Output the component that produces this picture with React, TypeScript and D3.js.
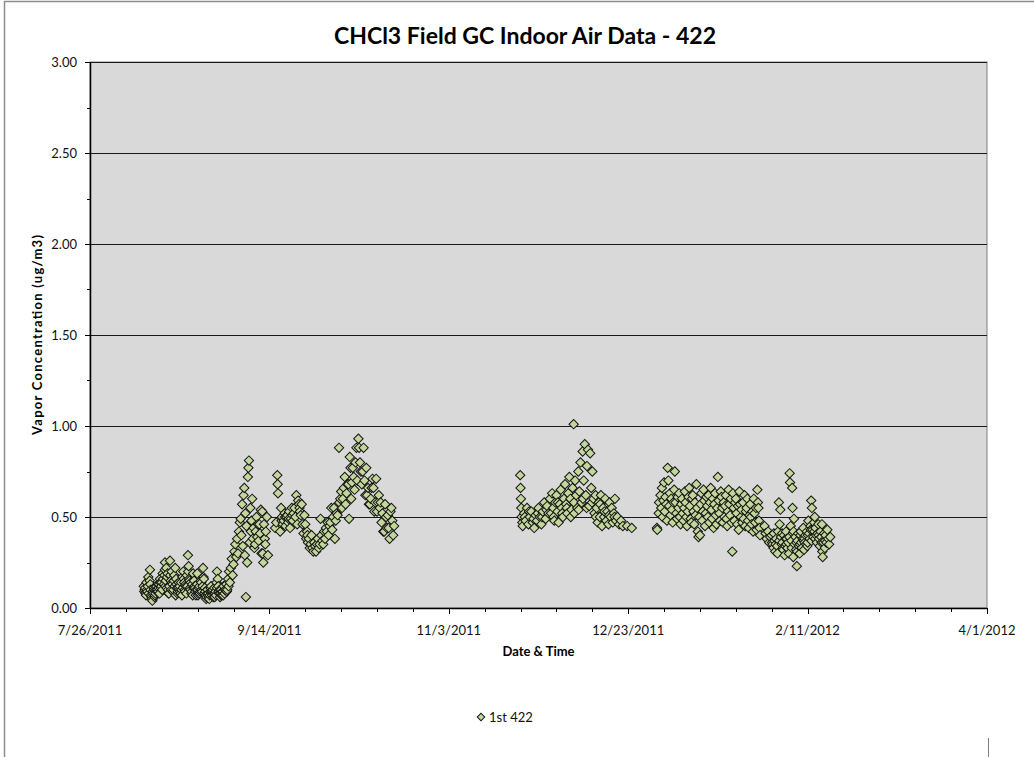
import React, { useEffect, useRef } from "react";
import * as d3 from "d3";

// readings: [day of month (fractional), ug/m3]
const aug2011: [number, number][] = [
  [10.0, 0.12], [10.25, 0.1], [10.5, 0.08], [10.75, 0.14],
  [11.0, 0.09], [11.25, 0.17], [11.7, 0.21], [11.8, 0.13],
  [12.0, 0.07], [12.25, 0.05], [12.5, 0.09], [12.75, 0.11],
  [13.0, 0.06], [13.25, 0.08], [13.5, 0.12], [13.75, 0.1],
  [14.0, 0.09], [14.25, 0.13], [14.5, 0.16], [14.75, 0.11],
  [15.0, 0.14], [15.25, 0.19], [15.9, 0.25], [15.75, 0.18],
  [16.0, 0.12], [16.25, 0.22], [16.5, 0.17], [16.75, 0.1],
  [17.0, 0.08], [17.3, 0.26], [17.5, 0.15], [17.75, 0.2],
  [18.0, 0.13], [18.25, 0.1], [18.5, 0.18], [18.75, 0.22],
  [19.0, 0.16], [19.25, 0.11], [19.5, 0.09], [19.75, 0.14],
  [20.0, 0.12], [20.25, 0.08], [20.5, 0.1], [20.75, 0.17],
  [21.0, 0.2], [21.25, 0.14], [21.5, 0.09], [21.75, 0.12],
  [22.0, 0.18], [22.3, 0.29], [22.5, 0.23], [22.75, 0.15],
  [23.0, 0.1], [23.25, 0.08], [23.5, 0.13], [23.75, 0.19],
  [24.0, 0.15], [24.25, 0.11], [24.5, 0.07], [24.9, 0.19],
  [25.0, 0.1], [25.25, 0.08], [25.5, 0.12], [25.75, 0.09],
  [26.0, 0.14], [26.25, 0.09], [26.5, 0.22], [26.75, 0.16],
  [27.0, 0.11], [27.25, 0.07], [27.5, 0.06], [27.75, 0.1],
  [28.0, 0.08], [28.25, 0.05], [28.5, 0.09], [28.75, 0.12],
  [29.0, 0.07], [29.25, 0.1], [29.5, 0.08], [29.75, 0.06],
  [30.0, 0.09], [30.25, 0.14], [30.4, 0.2], [30.75, 0.12],
  [31.0, 0.08], [31.25, 0.06], [31.5, 0.1], [31.75, 0.07],
  [10.125, 0.09], [10.375, 0.11], [10.625, 0.07], [10.875, 0.1],
  [11.125, 0.12], [11.375, 0.08], [11.625, 0.15], [11.875, 0.1],
  [12.125, 0.06], [12.375, 0.04], [12.625, 0.08], [12.875, 0.1],
  [13.125, 0.07], [13.375, 0.1], [13.625, 0.09], [13.875, 0.13],
  [14.125, 0.11], [14.375, 0.08], [14.625, 0.14], [14.875, 0.12],
  [15.125, 0.1], [15.375, 0.16], [15.625, 0.13], [15.875, 0.21],
  [16.125, 0.15], [16.375, 0.11], [16.625, 0.19], [16.875, 0.08],
  [17.125, 0.12], [17.375, 0.18], [17.625, 0.1], [17.875, 0.14],
  [18.125, 0.09], [18.375, 0.15], [18.625, 0.12], [18.875, 0.07],
  [19.125, 0.13], [19.375, 0.08], [19.625, 0.11], [19.875, 0.1],
  [20.125, 0.09], [20.375, 0.14], [20.625, 0.07], [20.875, 0.11],
  [21.125, 0.16], [21.375, 0.1], [21.625, 0.13], [21.875, 0.08],
  [22.125, 0.12], [22.375, 0.2], [22.625, 0.16], [22.875, 0.11],
  [23.125, 0.14], [23.375, 0.09], [23.625, 0.07], [23.875, 0.11],
  [24.125, 0.12], [24.375, 0.09], [24.625, 0.1], [24.875, 0.13],
  [25.125, 0.07], [25.375, 0.11], [25.625, 0.08], [25.875, 0.15],
  [26.125, 0.1], [26.375, 0.12], [26.625, 0.17], [26.875, 0.08],
  [27.125, 0.09], [27.375, 0.05], [27.625, 0.08], [27.875, 0.07],
  [28.125, 0.06], [28.375, 0.07], [28.625, 0.11], [28.875, 0.09],
  [29.125, 0.09], [29.375, 0.06], [29.625, 0.11], [29.875, 0.08],
  [30.125, 0.07], [30.375, 0.11], [30.625, 0.16], [30.875, 0.09],
  [31.125, 0.1], [31.375, 0.08], [31.625, 0.07], [31.875, 0.09],
];

const sep2011: [number, number][] = [
  [1.0, 0.09], [1.25, 0.12], [1.5, 0.08], [1.75, 0.1],
  [2.0, 0.13], [2.25, 0.1], [2.5, 0.16], [2.75, 0.2],
  [3.0, 0.14], [3.25, 0.22], [3.5, 0.27], [3.75, 0.18],
  [4.0, 0.24], [4.25, 0.31], [4.5, 0.35], [4.75, 0.28],
  [5.0, 0.38], [5.25, 0.3], [5.5, 0.42], [5.75, 0.47],
  [6.0, 0.49], [6.2, 0.4], [6.4, 0.57], [6.6, 0.34], [6.8, 0.62],
  [7.0, 0.66], [7.15, 0.29], [7.3, 0.52], [7.45, 0.06], [7.6, 0.45], [7.8, 0.25],
  [8.0, 0.72], [8.15, 0.77], [8.3, 0.81], [8.5, 0.36], [8.7, 0.55], [8.85, 0.42],
  [9.0, 0.48], [9.2, 0.6], [9.4, 0.38], [9.6, 0.44], [9.8, 0.33],
  [10.0, 0.35], [10.2, 0.42], [10.4, 0.5], [10.6, 0.39], [10.8, 0.46],
  [11.0, 0.37], [11.2, 0.46], [11.4, 0.41], [11.6, 0.54], [11.8, 0.3],
  [12.0, 0.53], [12.15, 0.3], [12.3, 0.25], [12.5, 0.46], [12.7, 0.38], [12.85, 0.35],
  [13.0, 0.42], [13.3, 0.5], [13.6, 0.29],
  [15.6, 0.44], [15.9, 0.47], [16.2, 0.73], [16.3, 0.68], [16.4, 0.63],
  [17.0, 0.42], [17.25, 0.55], [17.5, 0.5], [17.75, 0.46],
  [18.0, 0.48], [18.25, 0.52], [18.5, 0.45], [18.75, 0.5],
  [19.0, 0.51], [19.25, 0.47], [19.5, 0.53], [19.75, 0.44],
  [20.0, 0.49], [20.25, 0.55], [20.5, 0.48], [20.75, 0.52],
  [21.0, 0.55], [21.25, 0.5], [21.5, 0.62], [21.75, 0.46],
  [22.0, 0.59], [22.25, 0.57], [22.5, 0.53], [22.75, 0.51],
  [23.0, 0.57], [23.25, 0.46], [23.5, 0.41], [23.75, 0.51],
  [24.0, 0.46], [24.25, 0.38], [24.5, 0.42], [24.75, 0.36],
  [25.0, 0.38], [25.25, 0.33], [25.5, 0.35], [25.75, 0.4],
  [26.0, 0.33], [26.25, 0.31], [26.5, 0.36], [26.75, 0.34],
  [27.0, 0.31], [27.25, 0.35], [27.5, 0.38], [27.75, 0.33],
  [28.0, 0.35], [28.25, 0.49], [28.5, 0.4], [28.75, 0.37],
  [29.0, 0.35], [29.25, 0.42], [29.5, 0.38], [29.75, 0.44],
  [30.0, 0.42], [30.25, 0.47], [30.5, 0.4], [30.75, 0.45],
  [1.125, 0.07], [1.625, 0.1], [2.125, 0.09], [2.625, 0.12],
  [17.4, 0.48], [18.4, 0.5], [19.4, 0.49], [20.4, 0.51], [22.4, 0.55], [24.6, 0.4],
];

const oct2011: [number, number][] = [
  [1.0, 0.47], [1.25, 0.55], [1.5, 0.43], [1.75, 0.5],
  [2.0, 0.55], [2.25, 0.38], [2.5, 0.48], [2.75, 0.52],
  [3.0, 0.51], [3.4, 0.88], [3.5, 0.58], [3.75, 0.6],
  [4.0, 0.64], [4.25, 0.55], [4.5, 0.6], [4.75, 0.66],
  [5.0, 0.72], [5.25, 0.57], [5.5, 0.63], [5.75, 0.68],
  [6.0, 0.68], [6.2, 0.49], [6.4, 0.83], [6.6, 0.77], [6.8, 0.6],
  [7.0, 0.69], [7.25, 0.77], [7.5, 0.72], [7.75, 0.65],
  [8.0, 0.8], [8.25, 0.88], [8.5, 0.7], [8.8, 0.93],
  [9.0, 0.88], [9.25, 0.8], [9.5, 0.75], [9.75, 0.68],
  [10.0, 0.75], [10.25, 0.88], [10.5, 0.7], [10.75, 0.62],
  [11.0, 0.77], [11.25, 0.62], [11.5, 0.66], [11.75, 0.57],
  [12.0, 0.57], [12.25, 0.6], [12.5, 0.66], [12.75, 0.71],
  [13.0, 0.66], [13.25, 0.53], [13.5, 0.58], [13.75, 0.71],
  [14.0, 0.53], [14.25, 0.58], [14.5, 0.62], [14.75, 0.55],
  [15.0, 0.58], [15.25, 0.47], [15.5, 0.52], [15.75, 0.42],
  [16.0, 0.42], [16.25, 0.57], [16.5, 0.5], [16.75, 0.44],
  [17.0, 0.51], [17.25, 0.44], [17.5, 0.38], [17.75, 0.53],
  [18.0, 0.55], [18.25, 0.48], [18.5, 0.4], [18.75, 0.45],
];

const nov2011: [number, number][] = [
  [22.9, 0.73], [23.0, 0.66], [23.1, 0.6], [23.2, 0.55], [23.3, 0.5], [23.5, 0.47], [23.6, 0.45],
  [24.0, 0.52], [24.4, 0.48], [24.8, 0.55], [25.2, 0.46], [25.6, 0.5],
  [26.0, 0.53], [26.4, 0.47], [26.8, 0.44], [27.2, 0.51], [27.6, 0.48],
  [28.0, 0.55], [28.4, 0.5], [28.8, 0.46], [29.2, 0.53], [29.6, 0.58],
  [30.0, 0.49], [30.4, 0.56], [30.8, 0.52],
  [24.2, 0.5], [25.4, 0.53], [26.6, 0.49], [27.8, 0.52], [29.0, 0.5], [30.2, 0.54],
];

const dec2011: [number, number][] = [
  [1.2, 0.6], [1.5, 0.52], [1.8, 0.63], [2.1, 0.55], [2.4, 0.48], [2.7, 0.58],
  [3.0, 0.62], [3.3, 0.53], [3.6, 0.47], [3.9, 0.57],
  [4.2, 0.65], [4.5, 0.55], [4.8, 0.5], [5.1, 0.6],
  [5.4, 0.68], [5.7, 0.57], [6.0, 0.52], [6.3, 0.63],
  [6.6, 0.72], [6.9, 0.6], [7.2, 0.54], [7.5, 0.66],
  [7.8, 1.01], [7.9, 0.58], [8.2, 0.7], [8.5, 0.62], [8.8, 0.55],
  [9.1, 0.75], [9.4, 0.64], [9.7, 0.8], [10.0, 0.58],
  [10.3, 0.86], [10.6, 0.7], [10.9, 0.9], [11.2, 0.62],
  [11.5, 0.78], [11.8, 0.87], [12.1, 0.56], [12.4, 0.85], [12.7, 0.66],
  [13.0, 0.75], [13.3, 0.6], [13.6, 0.52], [13.9, 0.62],
  [14.2, 0.55], [14.5, 0.47], [14.8, 0.58], [15.1, 0.5],
  [15.4, 0.62], [15.7, 0.45], [16.0, 0.55], [16.3, 0.5],
  [16.6, 0.6], [16.9, 0.48], [17.2, 0.53], [17.5, 0.46],
  [17.8, 0.58], [18.1, 0.5], [18.4, 0.55], [18.7, 0.47],
  [19.0, 0.52], [19.3, 0.6], [19.6, 0.48], [20.0, 0.5],
  [20.5, 0.46], [21.0, 0.48], [21.5, 0.45],
  [22.7, 0.45], [24.0, 0.44],
  [31.0, 0.44], [31.1, 0.43], [31.5, 0.52], [31.6, 0.58],
  [2.2, 0.5], [3.4, 0.58], [4.6, 0.52], [5.9, 0.55], [7.0, 0.5],
  [8.0, 0.52], [9.2, 0.54], [10.4, 0.6], [11.4, 0.55], [12.9, 0.58],
  [14.0, 0.5], [15.2, 0.57], [16.4, 0.53], [17.7, 0.51], [19.2, 0.5],
];

const jan2012: [number, number][] = [
  [1.0, 0.62], [1.2, 0.55], [1.4, 0.66], [1.6, 0.5], [1.8, 0.59],
  [2.0, 0.69], [2.2, 0.53], [2.4, 0.61], [2.6, 0.57], [2.8, 0.48],
  [3.0, 0.77], [3.2, 0.7], [3.4, 0.56], [3.6, 0.63], [3.8, 0.51],
  [4.0, 0.6], [4.2, 0.54], [4.4, 0.47], [4.6, 0.58], [4.8, 0.65],
  [5.0, 0.75], [5.2, 0.58], [5.4, 0.52], [5.6, 0.49], [5.8, 0.61],
  [6.0, 0.55], [6.2, 0.63], [6.4, 0.5], [6.6, 0.46], [6.8, 0.57],
  [7.0, 0.6], [7.2, 0.52], [7.4, 0.48], [7.6, 0.55], [7.8, 0.64],
  [8.0, 0.58], [8.2, 0.5], [8.4, 0.45], [8.6, 0.53], [8.8, 0.61],
  [9.0, 0.66], [9.2, 0.56], [9.4, 0.49], [9.6, 0.47], [9.8, 0.6],
  [10.0, 0.62], [10.2, 0.53], [10.4, 0.46], [10.6, 0.58], [10.8, 0.51],
  [11.0, 0.68], [11.2, 0.55], [11.4, 0.42], [11.6, 0.39], [11.8, 0.5],
  [12.0, 0.4], [12.2, 0.57], [12.4, 0.63], [12.6, 0.48], [12.8, 0.53],
  [13.0, 0.65], [13.2, 0.59], [13.4, 0.45], [13.6, 0.52], [13.8, 0.61],
  [14.0, 0.56], [14.2, 0.5], [14.4, 0.62], [14.6, 0.47], [14.8, 0.58],
  [15.0, 0.66], [15.2, 0.54], [15.4, 0.49], [15.6, 0.6], [15.8, 0.44],
  [16.0, 0.57], [16.2, 0.63], [16.4, 0.51], [16.6, 0.46], [16.8, 0.55],
  [17.0, 0.72], [17.2, 0.59], [17.4, 0.52], [17.6, 0.48], [17.8, 0.64],
  [18.0, 0.61], [18.2, 0.55], [18.4, 0.47], [18.6, 0.58], [18.8, 0.5],
  [19.0, 0.56], [19.2, 0.62], [19.4, 0.49], [19.6, 0.45], [19.8, 0.53],
  [20.0, 0.65], [20.2, 0.57], [20.4, 0.51], [20.6, 0.6], [20.8, 0.47],
  [21.0, 0.31], [21.2, 0.63], [21.4, 0.55], [21.6, 0.48], [21.8, 0.58],
  [22.0, 0.6], [22.2, 0.52], [22.4, 0.46], [22.6, 0.56], [22.8, 0.43],
  [23.0, 0.64], [23.2, 0.57], [23.4, 0.5], [23.6, 0.54], [23.8, 0.47],
  [24.0, 0.58], [24.2, 0.49], [24.4, 0.62], [24.6, 0.45], [24.8, 0.53],
  [25.0, 0.55], [25.2, 0.6], [25.4, 0.48], [25.6, 0.44], [25.8, 0.51],
  [26.0, 0.57], [26.2, 0.5], [26.4, 0.46], [26.6, 0.53], [26.8, 0.42],
  [27.0, 0.6], [27.2, 0.52], [27.4, 0.47], [27.6, 0.55], [27.8, 0.43],
  [28.0, 0.65], [28.15, 0.58], [28.3, 0.55], [28.45, 0.48], [28.6, 0.44], [28.75, 0.4],
  [30.0, 0.45], [30.3, 0.41], [30.6, 0.38],
  [31.0, 0.42], [31.3, 0.36], [31.6, 0.39],
];

const feb2012: [number, number][] = [
  [1.0, 0.4], [1.25, 0.35], [1.5, 0.33], [1.75, 0.37],
  [2.0, 0.31], [2.25, 0.38], [2.5, 0.34], [2.75, 0.42],
  [3.0, 0.58], [3.2, 0.46], [3.4, 0.54], [3.6, 0.39], [3.8, 0.35],
  [4.0, 0.36], [4.2, 0.32], [4.4, 0.4], [4.6, 0.29], [4.8, 0.34],
  [5.0, 0.42], [5.2, 0.38], [5.4, 0.33], [5.6, 0.36], [5.8, 0.3],
  [6.0, 0.74], [6.1, 0.69], [6.3, 0.45], [6.5, 0.37], [6.6, 0.33],
  [6.7, 0.66], [6.8, 0.55], [6.9, 0.41],
  [7.0, 0.28], [7.2, 0.49], [7.4, 0.35], [7.6, 0.39], [7.8, 0.32],
  [8.0, 0.23], [8.2, 0.37], [8.4, 0.41], [8.6, 0.34], [8.8, 0.3],
  [9.0, 0.4], [9.2, 0.36], [9.4, 0.33], [9.6, 0.38], [9.8, 0.44],
  [10.0, 0.32], [10.2, 0.36], [10.4, 0.4], [10.6, 0.35], [10.8, 0.42],
  [11.0, 0.36], [11.2, 0.48], [11.4, 0.41], [11.6, 0.38], [11.8, 0.45],
  [12.0, 0.59], [12.2, 0.55], [12.4, 0.43], [12.6, 0.39], [12.8, 0.47],
  [13.0, 0.5], [13.2, 0.44], [13.4, 0.4], [13.6, 0.36], [13.8, 0.41],
  [14.0, 0.46], [14.2, 0.38], [14.4, 0.34], [14.6, 0.42], [14.8, 0.39],
  [15.0, 0.46], [15.2, 0.28], [15.4, 0.36], [15.6, 0.41], [15.8, 0.33],
  [16.0, 0.4], [16.25, 0.36], [16.5, 0.43], [16.75, 0.38],
  [17.0, 0.35], [17.3, 0.39],
  [1.1, 0.36], [1.6, 0.41], [2.1, 0.35], [2.6, 0.3], [3.1, 0.37], [3.9, 0.41],
  [4.1, 0.33], [4.9, 0.38], [5.1, 0.35], [5.9, 0.39], [7.1, 0.42], [7.9, 0.36],
  [8.1, 0.31], [8.9, 0.35], [9.1, 0.42], [9.9, 0.37], [10.1, 0.38], [10.9, 0.34],
  [11.1, 0.4], [11.9, 0.43], [12.1, 0.37], [12.9, 0.42], [13.1, 0.38], [14.1, 0.4],
  [14.9, 0.36], [15.1, 0.31], [15.9, 0.37],
];

const months: { year: number; month: number; readings: [number, number][] }[] = [
  { year: 2011, month: 7, readings: aug2011 },
  { year: 2011, month: 8, readings: sep2011 },
  { year: 2011, month: 9, readings: oct2011 },
  { year: 2011, month: 10, readings: nov2011 },
  { year: 2011, month: 11, readings: dec2011 },
  { year: 2012, month: 0, readings: jan2012 },
  { year: 2012, month: 1, readings: feb2012 },
];

const xTickLabels = ["7/26/2011", "9/14/2011", "11/3/2011", "12/23/2011", "2/11/2012", "4/1/2012"];
const yTicks = [0, 0.5, 1, 1.5, 2, 2.5, 3];
const seriesName = "1st 422";
const title = "CHCl3 Field GC Indoor Air Data - 422";

const DAY = 864e5;

const App: React.FC = () => {
  const svgRef = useRef<SVGSVGElement | null>(null);

  useEffect(() => {
    if (!svgRef.current) return;
    const svg = d3.select(svgRef.current);
    svg.selectAll("*").remove();

    const width = 1034;
    const height = 757;
    const margin = { top: 62, right: 47, bottom: 149, left: 90 };
    const innerWidth = width - margin.left - margin.right;
    const innerHeight = height - margin.top - margin.bottom;
    const font = "Lato, 'Open Sans', sans-serif";

    svg.attr("width", width).attr("height", height);

    // chart area
    svg.append("rect")
      .attr("x", 4.5).attr("y", 1.5)
      .attr("width", 1100).attr("height", 900)
      .attr("fill", "#fff")
      .attr("stroke", "#8c8c8c")
      .attr("stroke-width", 1.5);

    svg.append("line")
      .attr("x1", 988.5).attr("x2", 988.5)
      .attr("y1", 738).attr("y2", height)
      .attr("stroke", "#7f7f7f");

    svg.append("text")
      .attr("x", 525)
      .attr("y", 44)
      .attr("text-anchor", "middle")
      .attr("font-family", font)
      .attr("font-weight", "bold")
      .attr("font-size", "23px")
      .text(title);

    const parse = d3.utcParse("%m/%d/%Y");
    const xTicks = xTickLabels.map((s) => parse(s) as Date);
    const start = xTicks[0];
    const end = xTicks[xTicks.length - 1];

    const x = d3.scaleUtc().domain([start, end]).range([0, innerWidth]);
    const y = d3.scaleLinear().domain([0, 3]).range([innerHeight, 0]);

    const g = svg.append("g")
      .attr("transform", `translate(${margin.left},${margin.top})`);

    g.append("rect")
      .attr("width", innerWidth)
      .attr("height", innerHeight)
      .attr("fill", "#d9d9d9")
      .attr("stroke", "#808080")
      .attr("stroke-width", 1);

    // gridlines
    g.selectAll("line.grid")
      .data(yTicks.slice(1))
      .enter()
      .append("line")
      .attr("class", "grid")
      .attr("x1", 0)
      .attr("x2", innerWidth)
      .attr("y1", (d) => Math.round(y(d)) + 0.5)
      .attr("y2", (d) => Math.round(y(d)) + 0.5)
      .attr("stroke", "#1a1a1a")
      .attr("stroke-width", 1);

    // y axis
    const yMinor = d3.range(0, 3.001, 0.25);
    g.selectAll("line.ytick")
      .data(yMinor)
      .enter()
      .append("line")
      .attr("class", "ytick")
      .attr("x1", (d) => (yTicks.includes(d) ? -5 : -3))
      .attr("x2", 0)
      .attr("y1", (d) => Math.round(y(d)) + 0.5)
      .attr("y2", (d) => Math.round(y(d)) + 0.5)
      .attr("stroke", "#000");

    g.selectAll("text.ylab")
      .data(yTicks)
      .enter()
      .append("text")
      .attr("class", "ylab")
      .attr("x", -13)
      .attr("y", (d) => y(d) + 5)
      .attr("text-anchor", "end")
      .attr("font-family", font)
      .attr("font-size", "13px")
      .attr("fill", "#111")
      .text((d) => d.toFixed(2));

    g.append("line")
      .attr("x1", 0.5).attr("x2", 0.5)
      .attr("y1", 0).attr("y2", innerHeight)
      .attr("stroke", "#000").attr("stroke-width", 1.5);

    // x axis
    const xMinor = d3.range(0, 251, 10).map((d) => new Date(start.getTime() + d * DAY));
    g.selectAll("line.xtick")
      .data(xMinor)
      .enter()
      .append("line")
      .attr("class", "xtick")
      .attr("x1", (d) => Math.round(x(d)) + 0.5)
      .attr("x2", (d) => Math.round(x(d)) + 0.5)
      .attr("y1", innerHeight)
      .attr("y2", (_, i) => innerHeight + (i % 5 === 0 ? 6 : 4))
      .attr("stroke", "#000");

    g.selectAll("text.xlab")
      .data(xTicks)
      .enter()
      .append("text")
      .attr("class", "xlab")
      .attr("x", (d) => x(d))
      .attr("y", innerHeight + 27)
      .attr("text-anchor", "middle")
      .attr("font-family", font)
      .attr("font-size", "13px")
      .attr("fill", "#111")
      .text((_, i) => xTickLabels[i]);

    g.append("line")
      .attr("x1", 0).attr("x2", innerWidth)
      .attr("y1", innerHeight + 0.5).attr("y2", innerHeight + 0.5)
      .attr("stroke", "#000").attr("stroke-width", 1.5);

    g.append("text")
      .attr("x", innerWidth / 2)
      .attr("y", innerHeight + 48)
      .attr("text-anchor", "middle")
      .attr("font-family", font)
      .attr("font-weight", "bold")
      .attr("font-size", "13px")
      .text("Date & Time");

    g.append("text")
      .attr("transform", "rotate(-90)")
      .attr("x", -innerHeight / 2)
      .attr("y", -margin.left + 42)
      .attr("text-anchor", "middle")
      .attr("font-family", font)
      .attr("font-weight", "bold")
      .attr("font-size", "13px")
      .attr("textLength", 200)
      .attr("lengthAdjust", "spacing")
      .text("Vapor Concentration (ug/m3)");

    // points
    const points = months.flatMap((m) =>
      m.readings.map(([day, v]) => ({
        date: new Date(Date.UTC(m.year, m.month, 1) + (day - 1) * DAY),
        value: v,
      }))
    );
    points.sort((a, b) => a.date.getTime() - b.date.getTime());

    const diamond = d3.symbol().type(d3.symbolSquare).size(44)();

    g.selectAll("path.pt")
      .data(points)
      .enter()
      .append("path")
      .attr("class", "pt")
      .attr("d", diamond)
      .attr("transform", (d) => `translate(${x(d.date)},${y(d.value)}) rotate(45)`)
      .attr("fill", "#c3d69b")
      .attr("stroke", "#141414")
      .attr("stroke-width", 1);

    // legend
    const legend = svg.append("g").attr("transform", "translate(481,717)");
    legend.append("path")
      .attr("d", d3.symbol().type(d3.symbolSquare).size(28)())
      .attr("transform", "rotate(45)")
      .attr("fill", "#c3d69b")
      .attr("stroke", "#141414");
    legend.append("text")
      .attr("x", 8)
      .attr("y", 5)
      .attr("font-family", font)
      .attr("font-size", "13px")
      .attr("fill", "#111")
      .text(seriesName);
  }, []);

  return (
    <svg
      ref={svgRef}
      style={{ position: "absolute", left: 0, top: 0, display: "block" }}
    />
  );
};

export default App;
